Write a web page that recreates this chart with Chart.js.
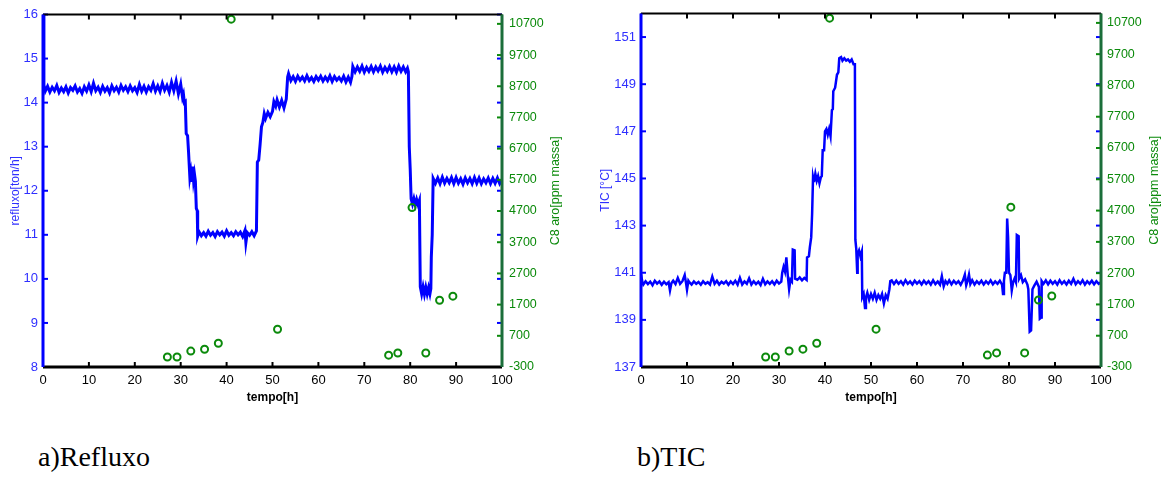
<!DOCTYPE html>
<html>
<head>
<meta charset="utf-8">
<script src="https://cdn.jsdelivr.net/npm/chart.js@4"></script>
<style>
  body { margin: 0; background: #fff; width: 1169px; height: 477px; position: relative; overflow: hidden; }
  canvas { position: absolute; top: 0; }
  #refluxoChart { left: 0; }
  #ticChart { left: 590px; }
  .caption { position: absolute; top: 443px; font-family: 'Liberation Serif', 'Times New Roman', serif; font-size: 28px; line-height: 28px; color: #000; }
</style>
</head>
<body>
<canvas id="refluxoChart" width="580" height="410"></canvas>
<canvas id="ticChart" width="579" height="410"></canvas>
<div class="caption" style="left:38px">a)Refluxo</div>
<div class="caption" style="left:637px">b)TIC</div>
<script>
// axis ticks
var timeTicks = [0, 10, 20, 30, 40, 50, 60, 70, 80, 90, 100];
var refluxoTicks = [8, 9, 10, 11, 12, 13, 14, 15, 16];
var ticTicks = [137, 139, 141, 143, 145, 147, 149, 151];
var c8Ticks = [-300, 700, 1700, 2700, 3700, 4700, 5700, 6700, 7700, 8700, 9700, 10700];

// lab samples of C8 aromatics (same samples on both plots)
var c8Time = [27.1, 29.2, 32.2, 35.2, 38.2, 41.0, 51.1, 75.3, 77.3, 80.4, 83.4, 86.4, 89.3];
var c8Values = [20, 20, 210, 270, 460, 10850, 910, 80, 150, 4810, 150, 1840, 1970];

// reflux flow [ton/h] vs time [h]
var refluxo = [
  [0, 16.0], [0.2, 14.40],
  [0.5, 14.26], [1.0, 14.37], [1.5, 14.24], [2.0, 14.35], [2.5, 14.27], [3.0, 14.39], [3.5, 14.23], [4.0, 14.33],
  [4.5, 14.25], [5.0, 14.36], [5.5, 14.22], [6.0, 14.34], [6.5, 14.28], [7.0, 14.38], [7.5, 14.24], [8.0, 14.32],
  [8.5, 14.21], [9.0, 14.36], [9.5, 14.26], [10.0, 14.40], [10.5, 14.25], [11.0, 14.44], [11.5, 14.27], [12.0, 14.35],
  [12.5, 14.23], [13.0, 14.37], [13.5, 14.26], [14.0, 14.34], [14.5, 14.22], [15.0, 14.38], [15.5, 14.27], [16.0, 14.35],
  [16.5, 14.24], [17.0, 14.39], [17.5, 14.28], [18.0, 14.36], [18.5, 14.25], [19.0, 14.38], [19.5, 14.27], [20.0, 14.34],
  [20.5, 14.23], [21.0, 14.41], [21.5, 14.26], [22.0, 14.37], [22.5, 14.24], [23.0, 14.36], [23.5, 14.28], [24.0, 14.43],
  [24.5, 14.26], [25.0, 14.38], [25.5, 14.25], [26.0, 14.44], [26.5, 14.28], [27.0, 14.39], [27.5, 14.24], [28.0, 14.46],
  [28.5, 14.27], [29.0, 14.49], [29.5, 14.20], [30.0, 14.42], [30.4, 14.12],
  [30.6, 14.19], [30.8, 14.00], [31.0, 14.02], [31.2, 13.30], [31.5, 13.25], [31.7, 12.90], [32.0, 12.30], [32.2, 12.42],
  [32.4, 12.20], [32.6, 12.55], [32.8, 12.24], [33.0, 12.38], [33.2, 12.22], [33.4, 11.60], [33.6, 11.55], [33.7, 10.97],
  [34.0, 11.07], [34.5, 10.98], [35.0, 11.05], [35.5, 10.97], [36.0, 11.08], [36.5, 10.99], [37.0, 11.05], [37.5, 10.96],
  [38.0, 11.07], [38.5, 11.00], [39.0, 11.06], [39.5, 10.97], [40.0, 11.09], [40.5, 10.99], [41.0, 11.05], [41.5, 10.98],
  [42.0, 11.07], [42.5, 11.00], [43.0, 11.06], [43.5, 10.96], [44.0, 11.10], [44.2, 10.82], [44.5, 11.05], [45.0, 10.99],
  [45.5, 11.07], [46.0, 10.98], [46.5, 11.09],
  [46.7, 12.65], [47.0, 12.70], [47.3, 13.05], [47.6, 13.45], [47.9, 13.55], [48.2, 13.75], [48.5, 13.64], [49.0, 13.78],
  [49.5, 13.68], [50.0, 13.80], [50.3, 14.02], [50.7, 13.92], [51.0, 14.06], [51.5, 13.90], [52.0, 14.05], [52.5, 13.88],
  [53.0, 14.08], [53.3, 14.58],
  [53.5, 14.66], [54.0, 14.50], [54.5, 14.59], [55.0, 14.48], [55.5, 14.60], [56.0, 14.51], [56.5, 14.58], [57.0, 14.49],
  [57.5, 14.61], [58.0, 14.50], [58.5, 14.57], [59.0, 14.48], [59.5, 14.59], [60.0, 14.51], [60.5, 14.60], [61.0, 14.49],
  [61.5, 14.58], [62.0, 14.50], [62.5, 14.61], [63.0, 14.48], [63.5, 14.59], [64.0, 14.51], [64.5, 14.57], [65.0, 14.49],
  [65.5, 14.60], [66.0, 14.47], [66.5, 14.58], [67.0, 14.46], [67.3, 14.59],
  [67.5, 14.82], [68.0, 14.70], [68.5, 14.81], [69.0, 14.71], [69.5, 14.83], [70.0, 14.69], [70.5, 14.80], [71.0, 14.71],
  [71.5, 14.82], [72.0, 14.70], [72.5, 14.81], [73.0, 14.72], [73.5, 14.83], [74.0, 14.69], [74.5, 14.80], [75.0, 14.71],
  [75.5, 14.82], [76.0, 14.70], [76.5, 14.81], [77.0, 14.69], [77.5, 14.83], [78.0, 14.71], [78.5, 14.81], [79.0, 14.70],
  [79.4, 14.78],
  [79.6, 14.70], [79.8, 13.00], [80.0, 12.50], [80.2, 11.82], [80.5, 11.70], [80.8, 11.82], [81.1, 11.68], [81.4, 11.80],
  [81.7, 11.69], [82.0, 11.78], [82.2, 9.82], [82.5, 9.66], [82.8, 9.82], [83.1, 9.65], [83.4, 9.81], [83.7, 9.66],
  [84.0, 9.80], [84.3, 9.66], [84.5, 9.78], [84.6, 10.50], [84.8, 11.00], [85.0, 12.28],
  [85.5, 12.17], [86.0, 12.29], [86.5, 12.16], [87.0, 12.31], [87.5, 12.17], [88.0, 12.28], [88.5, 12.18], [89.0, 12.30],
  [89.5, 12.16], [90.0, 12.30], [90.5, 12.17], [91.0, 12.27], [91.5, 12.15], [92.0, 12.29], [92.5, 12.18], [93.0, 12.28],
  [93.5, 12.16], [94.0, 12.30], [94.5, 12.17], [95.0, 12.29], [95.5, 12.16], [96.0, 12.27], [96.5, 12.18], [97.0, 12.29],
  [97.5, 12.16], [98.0, 12.28], [98.5, 12.17], [99.0, 12.29], [99.5, 12.16], [100, 12.25]
];

// TIC temperature [°C] vs time [h]
var tic = [
  [0, 140.95], [0.3, 140.60],
  [0.5, 140.50], [1.0, 140.64], [1.5, 140.52], [2.0, 140.62], [2.5, 140.47], [3.0, 140.66], [3.5, 140.54], [4.0, 140.63],
  [4.5, 140.49], [5.0, 140.62], [5.5, 140.51], [6.0, 140.60], [6.3, 140.25], [6.6, 140.55], [7.0, 140.66], [7.5, 140.52],
  [8.0, 140.78], [8.5, 140.53], [9.0, 140.64], [9.5, 140.90], [9.8, 140.55], [10.0, 140.28], [10.3, 140.66], [10.5, 140.60],
  [11.0, 140.50], [11.5, 140.63], [12.0, 140.53], [12.5, 140.61], [13.0, 140.49], [13.5, 140.64], [14.0, 140.53], [14.5, 140.60],
  [15.0, 140.50], [15.5, 140.84], [16.0, 140.53], [16.5, 140.66], [17.0, 140.50], [17.5, 140.62], [18.0, 140.54], [18.5, 140.64],
  [19.0, 140.49], [19.5, 140.63], [20.0, 140.52], [20.5, 140.66], [21.0, 140.49], [21.5, 140.78], [22.0, 140.50], [22.5, 140.63],
  [23.0, 140.53], [23.5, 140.76], [24.0, 140.50], [24.5, 140.64], [25.0, 140.52], [25.5, 140.62], [26.0, 140.48], [26.5, 140.74],
  [27.0, 140.51], [27.5, 140.63], [28.0, 140.53], [28.5, 140.64], [29.0, 140.50], [29.5, 140.66], [30.0, 140.54], [30.5, 140.62],
  [30.7, 141.00], [31.0, 141.25], [31.3, 141.05], [31.6, 141.65], [31.9, 140.90], [32.2, 140.30], [32.5, 140.70], [32.8, 140.62],
  [33.0, 141.98], [33.4, 141.95], [33.5, 140.75], [34.0, 140.70], [34.5, 140.80], [35.0, 140.68], [35.5, 140.78], [36.0, 140.70],
  [36.1, 141.65], [36.5, 141.70], [36.7, 142.08], [37.0, 142.50], [37.2, 143.50], [37.4, 145.05], [37.6, 144.85], [37.9, 145.20],
  [38.2, 144.90], [38.5, 145.10], [38.8, 144.80], [39.1, 145.05], [39.3, 145.10], [39.5, 146.20], [39.8, 146.20], [40.0, 147.00],
  [40.3, 147.10], [40.6, 146.85], [40.9, 147.10], [41.2, 146.80], [41.5, 147.90], [41.7, 147.95], [41.8, 148.70], [42.2, 148.85],
  [42.6, 149.40], [42.9, 149.50], [43.1, 150.10], [43.5, 150.15], [43.8, 150.00], [44.2, 150.10], [44.6, 150.00], [45.0, 150.05],
  [45.4, 149.95], [45.8, 150.05], [46.2, 149.85], [46.5, 149.85], [46.6, 142.40], [46.8, 142.00], [47.0, 141.00], [47.1, 141.80],
  [47.4, 141.95], [47.7, 141.70], [48.0, 141.90], [48.1, 139.96], [48.4, 140.10], [48.7, 139.50], [48.9, 139.95], [49.2, 140.15],
  [49.6, 139.85], [50.0, 140.10], [50.4, 139.90], [50.8, 140.15], [51.2, 139.85], [51.6, 140.05], [52.0, 139.90], [52.4, 140.10],
  [52.8, 139.70], [53.2, 140.05], [53.6, 139.90], [54.0, 140.30], [54.2, 140.65],
  [54.5, 140.68], [55.0, 140.52], [55.5, 140.66], [56.0, 140.53], [56.5, 140.64], [57.0, 140.50], [57.5, 140.68], [58.0, 140.53],
  [58.5, 140.63], [59.0, 140.50], [59.5, 140.66], [60.0, 140.54], [60.5, 140.64], [61.0, 140.50], [61.5, 140.66], [62.0, 140.53],
  [62.5, 140.64], [63.0, 140.50], [63.5, 140.68], [64.0, 140.52], [64.5, 140.63], [65.0, 140.49], [65.4, 140.85], [65.8, 140.42],
  [66.2, 140.65], [66.6, 140.53], [67.0, 140.68], [67.5, 140.51], [68.0, 140.66], [68.5, 140.54], [69.0, 140.64], [69.5, 140.49],
  [70.0, 140.68], [70.4, 140.92], [70.7, 140.47], [71.0, 140.66], [71.3, 140.92], [71.6, 140.52], [72.0, 140.68], [72.5, 140.50],
  [73.0, 140.64], [73.5, 140.53], [74.0, 140.66], [74.5, 140.50], [75.0, 140.64], [75.5, 140.53], [76.0, 140.68], [76.5, 140.51],
  [77.0, 140.63], [77.5, 140.53], [78.0, 140.66], [78.5, 140.49], [78.7, 140.10], [78.9, 140.65], [79.1, 141.00], [79.4, 141.00],
  [79.6, 143.30], [79.8, 142.50], [80.0, 141.00], [80.3, 140.90], [80.6, 140.25], [80.9, 140.60], [81.2, 140.75], [81.5, 140.60],
  [81.7, 142.60], [82.1, 142.55], [82.2, 140.75], [82.6, 140.90], [83.0, 140.60], [83.5, 140.72], [84.0, 140.50], [84.2, 140.30],
  [84.5, 138.50], [84.8, 138.55], [85.1, 140.30], [85.5, 140.45], [86.0, 140.62], [86.5, 140.40], [86.7, 139.05], [87.0, 139.10],
  [87.1, 140.65], [87.5, 140.53], [88.0, 140.68], [88.5, 140.51], [89.0, 140.66], [89.5, 140.53], [90.0, 140.64], [90.5, 140.50],
  [91.0, 140.68], [91.5, 140.53], [92.0, 140.64], [92.5, 140.50], [93.0, 140.66], [93.5, 140.53], [94.0, 140.74], [94.5, 140.51],
  [95.0, 140.64], [95.5, 140.53], [96.0, 140.68], [96.5, 140.50], [97.0, 140.64], [97.5, 140.53], [98.0, 140.66], [98.5, 140.51],
  [99.0, 140.64], [99.5, 140.53], [100, 140.60]
];

var FONT = "'Liberation Sans', Arial, sans-serif";
var BLUE = '#0000ff';
var BLUE_TEXT = '#2f2fff';
var GREEN = '#0b8a0b';
var GREEN_AXIS = '#1b6e3a';

function toPoints(pairs) {
  return pairs.map(function(p) { return {x: p[0], y: p[1]}; });
}

function tickList(values) {
  return function(scale) {
    scale.ticks = values.map(function(v) { return {value: v}; });
  };
}

// plain numbers, no thousands separator
function plainLabel(v) {
  return String(v);
}

// matlab-like frame: inward ticks on all four sides, coloured axis lines
var boxAxes = {
  id: 'boxAxes',
  afterDatasetsDraw: function(chart, args, opts) {
    var ctx = chart.ctx;
    var a = chart.chartArea;
    var sx = chart.scales.x, sy = chart.scales.y, sy2 = chart.scales.y2;
    var len = 5;

    function seg(x1, y1, x2, y2) {
      ctx.beginPath();
      ctx.moveTo(x1, y1);
      ctx.lineTo(x2, y2);
      ctx.stroke();
    }

    ctx.save();
    ctx.lineWidth = 2;

    ctx.strokeStyle = '#000';
    sx.ticks.forEach(function(t) {
      var px = sx.getPixelForValue(t.value);
      seg(px, a.bottom, px, a.bottom - len);
      seg(px, a.top, px, a.top + len);
    });

    ctx.strokeStyle = BLUE;
    sy.ticks.forEach(function(t) {
      var py = sy.getPixelForValue(t.value);
      seg(a.left, py, a.left + len, py);
      seg(a.right, py, a.right - len, py);
    });

    ctx.strokeStyle = GREEN;
    sy2.ticks.forEach(function(t) {
      var py = sy2.getPixelForValue(t.value);
      seg(a.right, py, a.right - len, py);
    });

    // frame lines
    ctx.strokeStyle = '#000';
    seg(a.left, a.top, a.right, a.top);
    ctx.lineWidth = 3;
    seg(a.left, a.bottom, a.right, a.bottom);
    ctx.strokeStyle = BLUE;
    seg(a.left, a.top, a.left, a.bottom);
    ctx.strokeStyle = GREEN_AXIS;
    seg(a.right, a.top, a.right, a.bottom);

    // right title reads bottom-to-top like the left one
    ctx.translate(sy2.right - opts.titleOffset, (a.top + a.bottom) / 2);
    ctx.rotate(-Math.PI / 2);
    ctx.fillStyle = GREEN;
    ctx.font = '12.5px ' + FONT;
    ctx.textAlign = 'center';
    ctx.textBaseline = 'middle';
    ctx.fillText(opts.title, 0, 0);
    ctx.restore();
  }
};

function buildChart(canvasId, cfg) {
  var ctx = document.getElementById(canvasId).getContext('2d');
  return new Chart(ctx, {
    type: 'line',
    data: {
      datasets: [{
        data: c8Time.map(function(t, i) { return {x: t, y: c8Values[i]}; }),
        yAxisID: 'y2',
        showLine: false,
        pointStyle: 'circle',
        pointRadius: 3.5,
        pointBorderWidth: 2,
        pointBorderColor: GREEN,
        pointBackgroundColor: 'rgba(0,0,0,0)',
        clip: false
      }, {
        data: toPoints(cfg.trace),
        yAxisID: 'y',
        borderColor: BLUE,
        borderWidth: cfg.lineWidth,
        pointRadius: 0,
        tension: 0,
        fill: false
      }]
    },
    options: {
      responsive: false,
      animation: false,
      events: [],
      layout: { padding: { top: 12, left: 0, right: 0, bottom: 0 } },
      plugins: {
        legend: { display: false },
        tooltip: { enabled: false },
        boxAxes: { title: 'C8 aro[ppm massa]', titleOffset: cfg.rightTitleOffset }
      },
      scales: {
        x: {
          type: 'linear', min: 0, max: 100,
          afterBuildTicks: tickList(timeTicks),
          afterFit: function(s) { s.height = 43; },
          grid: { display: false, drawTicks: false },
          border: { display: false },
          ticks: { color: '#000', font: { family: FONT, size: 13 }, padding: 6, maxRotation: 0, autoSkip: false, callback: plainLabel },
          title: { display: true, text: 'tempo[h]', color: '#000', font: { family: FONT, size: 12, weight: 'bold' }, padding: { top: 0, bottom: 5 } }
        },
        y: {
          position: 'left', min: cfg.min, max: cfg.max,
          afterBuildTicks: tickList(cfg.ticks),
          afterFit: function(s) { s.width = cfg.leftWidth; },
          grid: { display: false, drawTicks: false },
          border: { display: false },
          ticks: { color: BLUE_TEXT, font: { family: FONT, size: 13 }, padding: 5, autoSkip: false, callback: plainLabel },
          title: { display: true, text: cfg.title, color: BLUE_TEXT, font: { family: FONT, size: 12 }, padding: { top: 8, bottom: 0 } }
        },
        y2: {
          position: 'right', min: -300, max: 11000,
          afterBuildTicks: tickList(c8Ticks),
          afterFit: function(s) { s.width = cfg.rightWidth; },
          grid: { display: false, drawTicks: false },
          border: { display: false },
          ticks: { color: GREEN, font: { family: FONT, size: 12.5 }, padding: cfg.rightPad, autoSkip: false, callback: plainLabel }
        }
      }
    },
    plugins: [boxAxes]
  });
}

buildChart('refluxoChart', {
  trace: refluxo, title: 'refluxo[ton/h]', min: 8, max: 16, ticks: refluxoTicks, lineWidth: 3,
  leftWidth: 43, rightWidth: 78, rightPad: 7, rightTitleOffset: 24
});

buildChart('ticChart', {
  trace: tic, title: 'TIC [°C]', min: 137, max: 152, ticks: ticTicks, lineWidth: 2.5,
  leftWidth: 51, rightWidth: 68, rightPad: 6, rightTitleOffset: 14
});
</script>
</body>
</html>
